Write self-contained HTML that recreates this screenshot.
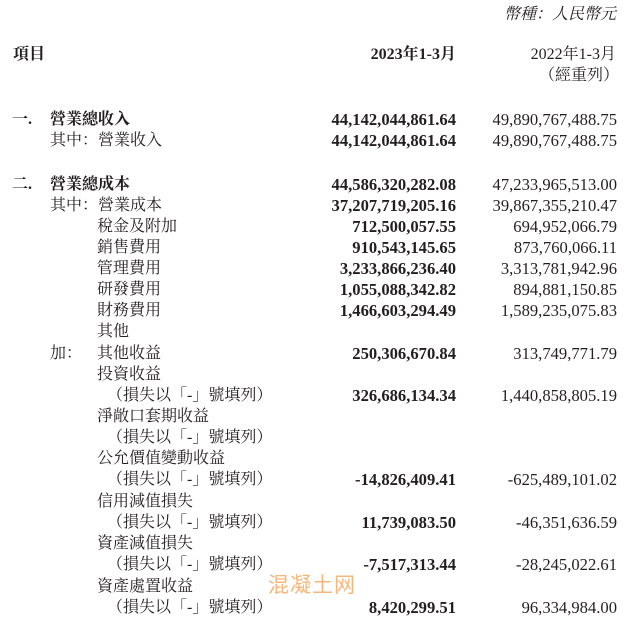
<!DOCTYPE html>
<html><head><meta charset="utf-8"><style>
html,body{margin:0;padding:0;background:#fff;}
body{width:632px;height:629px;position:relative;overflow:hidden;font-family:"Liberation Serif","Noto Serif CJK SC","Noto Serif CJK TC",serif;font-size:16px;color:#231f20;}
.t{position:absolute;white-space:nowrap;line-height:18px;}
.b{font-weight:bold;}
.r1{right:176px;text-align:right;font-weight:bold;font-size:16.6px;}
.r2{right:15px;text-align:right;font-size:16.6px;}
.wm{position:absolute;left:268px;top:572px;font-family:"Noto Sans CJK SC",sans-serif;font-size:21px;color:#f5b77a;letter-spacing:1px;line-height:24px;}
</style></head><body>
<div class="t" style="right:16px;top:6px;font-style:italic;">幣種：人民幣元</div>
<div class="t b" style="left:13px;top:46px;">項目</div>
<div class="t b" style="right:176px;top:46px;">2023年1-3月</div>
<div class="t" style="right:16px;top:46px;">2022年1-3月</div>
<div class="t" style="right:13px;top:67px;">（經重列）</div>

<div class="t b" style="left:12px;top:111px;">一.</div><div class="t b" style="left:50px;top:111px;">營業總收入</div>
<div class="t r1" style="top:111px;">44,142,044,861.64</div><div class="t r2" style="top:111px;">49,890,767,488.75</div>
<div class="t" style="left:50px;top:132px;">其中：營業收入</div>
<div class="t r1" style="top:132px;">44,142,044,861.64</div><div class="t r2" style="top:132px;">49,890,767,488.75</div>

<div class="t b" style="left:12px;top:176px;">二.</div><div class="t b" style="left:50px;top:176px;">營業總成本</div>
<div class="t r1" style="top:176px;">44,586,320,282.08</div><div class="t r2" style="top:176px;">47,233,965,513.00</div>
<div class="t" style="left:50px;top:197px;">其中：營業成本</div>
<div class="t r1" style="top:197px;">37,207,719,205.16</div><div class="t r2" style="top:197px;">39,867,355,210.47</div>
<div class="t" style="left:97px;top:218px;">稅金及附加</div>
<div class="t r1" style="top:218px;">712,500,057.55</div><div class="t r2" style="top:218px;">694,952,066.79</div>
<div class="t" style="left:97px;top:239px;">銷售費用</div>
<div class="t r1" style="top:239px;">910,543,145.65</div><div class="t r2" style="top:239px;">873,760,066.11</div>
<div class="t" style="left:97px;top:260px;">管理費用</div>
<div class="t r1" style="top:260px;">3,233,866,236.40</div><div class="t r2" style="top:260px;">3,313,781,942.96</div>
<div class="t" style="left:97px;top:281px;">研發費用</div>
<div class="t r1" style="top:281px;">1,055,088,342.82</div><div class="t r2" style="top:281px;">894,881,150.85</div>
<div class="t" style="left:97px;top:302px;">財務費用</div>
<div class="t r1" style="top:302px;">1,466,603,294.49</div><div class="t r2" style="top:302px;">1,589,235,075.83</div>
<div class="t" style="left:97px;top:323px;">其他</div>
<div class="t" style="left:50px;top:345px;">加：</div>
<div class="t" style="left:97px;top:345px;">其他收益</div>
<div class="t r1" style="top:345px;">250,306,670.84</div><div class="t r2" style="top:345px;">313,749,771.79</div>
<div class="t" style="left:97px;top:366px;">投資收益</div>
<div class="t" style="left:107px;top:387px;">（損失以「-」號填列）</div>
<div class="t r1" style="top:387px;">326,686,134.34</div><div class="t r2" style="top:387px;">1,440,858,805.19</div>
<div class="t" style="left:97px;top:408px;">淨敞口套期收益</div>
<div class="t" style="left:107px;top:429px;">（損失以「-」號填列）</div>
<div class="t" style="left:97px;top:450px;">公允價值變動收益</div>
<div class="t" style="left:107px;top:471px;">（損失以「-」號填列）</div>
<div class="t r1" style="top:471px;">-14,826,409.41</div><div class="t r2" style="top:471px;">-625,489,101.02</div>
<div class="t" style="left:97px;top:493px;">信用減值損失</div>
<div class="t" style="left:107px;top:514px;">（損失以「-」號填列）</div>
<div class="t r1" style="top:514px;">11,739,083.50</div><div class="t r2" style="top:514px;">-46,351,636.59</div>
<div class="t" style="left:97px;top:535px;">資產減值損失</div>
<div class="t" style="left:107px;top:556px;">（損失以「-」號填列）</div>
<div class="t r1" style="top:556px;">-7,517,313.44</div><div class="t r2" style="top:556px;">-28,245,022.61</div>
<div class="t" style="left:97px;top:578px;">資產處置收益</div>
<div class="t" style="left:107px;top:599px;">（損失以「-」號填列）</div>
<div class="t r1" style="top:599px;">8,420,299.51</div><div class="t r2" style="top:599px;">96,334,984.00</div>
<div class="wm">混凝土网</div>
</body></html>
